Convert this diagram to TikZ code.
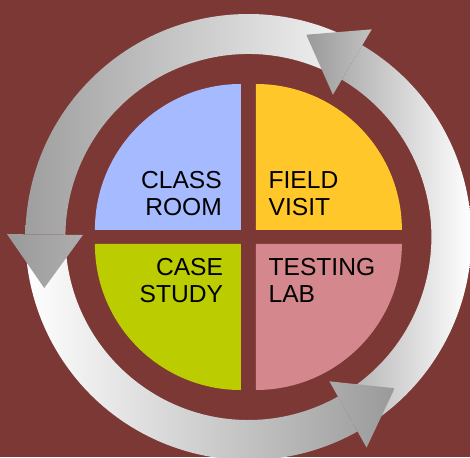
\documentclass[tikz,border=0pt]{standalone}
\usepackage{fontspec}
\setmainfont{Liberation Sans}
\usetikzlibrary{calc}
\definecolor{bg}{HTML}{7C3834}
\definecolor{qblue}{HTML}{A6BAFF}
\definecolor{qyellow}{HTML}{FFC72A}
\definecolor{qgreen}{HTML}{BBCD00}
\definecolor{qpink}{HTML}{D4878C}
\definecolor{headgray}{HTML}{9A9A9A}
\definecolor{tailwhite}{HTML}{FFFFFF}
\definecolor{tailL}{HTML}{F2F2F2}
\begin{document}
\begin{tikzpicture}[x=1pt,y=1pt,
  lbl/.style={inner sep=0pt, outer sep=0pt, font=\fontsize{24.6}{27}\selectfont, text=black}]
\useasboundingbox (-248.4,-220) rectangle (221.6,237);
\fill[bg] (-248.4,-220) rectangle (221.6,237);
% quarter wedges
\fill[qblue]   (-7.5,7) -- (-153.5,7) arc[start angle=180,end angle=90,radius=146pt] -- cycle;
\fill[qyellow] (7.5,7) -- (7.5,153) arc[start angle=90,end angle=0,radius=146pt] -- cycle;
\fill[qgreen]  (-7.5,-7) -- (-153.5,-7) arc[start angle=180,end angle=270,radius=146pt] -- cycle;
\fill[qpink]   (7.5,-7) -- (7.5,-153) arc[start angle=270,end angle=360,radius=146pt] -- cycle;
% shafts
\begin{scope}
  \clip (64:183) arc[start angle=64,end angle=179.3,radius=183pt] -- (179.3:223) arc[start angle=179.3,end angle=64,radius=223pt] -- cycle;
  \shade[left color=headgray,right color=tailL] (-241.7,-230) rectangle (97.6,240);
\end{scope}
\begin{scope}
  \clip (184:183) arc[start angle=184,end angle=299.3,radius=183pt] -- (299.3:223) arc[start angle=299.3,end angle=184,radius=223pt] -- cycle;
  \shade[left color=tailwhite,right color=headgray] (-224,-230) rectangle (146,240);
\end{scope}
\begin{scope}
  \clip (304:183) arc[start angle=304,end angle=419.3,radius=183pt] -- (419.3:223) arc[start angle=419.3,end angle=304,radius=223pt] -- cycle;
  \shade[left color=headgray,right color=tailwhite] (58.3,-230) rectangle (223,240);
\end{scope}
% heads
\begin{scope}
  \clip (179.3:165.5) -- (179.3:241.5) -- ($(179.3:203.5)+(269.3:53.5)$) -- cycle;
  \shade[left color=headgray,right color=tailL] (-241.7,-230) rectangle (97.6,240);
\end{scope}
\begin{scope}
  \clip (299.3:165.5) -- (299.3:241.5) -- ($(299.3:203.5)+(29.3:53.5)$) -- cycle;
  \shade[left color=tailwhite,right color=headgray] (-224,-230) rectangle (146,240);
\end{scope}
\begin{scope}
  \clip (59.3:165.5) -- (59.3:241.5) -- ($(59.3:203.5)+(149.3:53.5)$) -- cycle;
  \shade[left color=headgray,right color=tailwhite] (58.3,-230) rectangle (223,240);
\end{scope}
% labels
\node[lbl, anchor=north east, align=right] (classroom) at (-26.6,65.6) {CLASS\\ROOM};
\node[lbl, anchor=north west, align=left] (fieldvisit) at (20.2,65.6) {FIELD\\VISIT};
\node[lbl, anchor=north east, align=right] (casestudy) at (-25.4,-21.0) {CASE\\STUDY};
\node[lbl, anchor=north west, align=left] (testinglab) at (20.2,-21.0) {TESTING\\LAB};
\end{tikzpicture}
\end{document}
